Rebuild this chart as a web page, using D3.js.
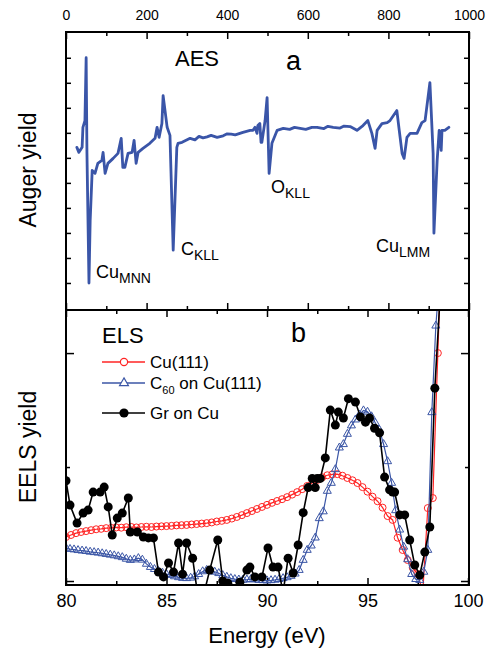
<!DOCTYPE html>
<html><head><meta charset="utf-8">
<script src="https://cdn.jsdelivr.net/npm/d3@7/dist/d3.min.js"></script>
<style>
html,body{margin:0;padding:0;background:#fff;}
text{font-family:"Liberation Sans",Arial,Helvetica,sans-serif;fill:#000;}
</style></head>
<body><svg id="c" width="486" height="653"></svg>
<script>
// ---------- DATA ----------
// Panel a: AES spectrum (kinetic energy in eV, Auger yield in arb. units)
const aesE = [27,32,40,42,47,50,52,57,60,65,72,79,89,92,97,104,117,129,137,141,146,154,164,169,174,179,191,208,221,226,231,238,241,251,258,266,275,278,288,308,320,330,340,350,360,375,390,400,410,420,439,457,464,469,474,476,481,484,486,494,499,504,511,524,539,555,567,581,595,610,623,640,650,663,680,690,705,722,737,749,759,767,772,784,797,804,821,826,834,839,846,854,871,883,891,903,911,913,921,926,931,933,940,950];
const aesY = [6.42,6.22,6.42,7.22,7.49,10.0,6.18,1.0,3.51,5.50,5.38,5.78,5.90,6.22,5.38,5.78,5.98,6.18,6.78,5.62,5.62,6.18,6.22,6.70,5.78,6.22,6.38,6.58,6.78,7.22,6.82,7.37,8.49,7.22,6.90,2.31,6.42,6.58,6.62,6.78,6.72,6.86,6.80,6.84,6.90,6.82,6.88,6.96,6.95,6.92,7.02,7.10,7.10,7.22,6.98,7.29,7.37,6.62,6.62,7.49,8.41,5.38,6.58,7.10,7.18,7.14,7.22,7.18,7.14,7.22,7.22,7.17,7.26,7.22,7.19,7.27,7.25,7.10,7.29,7.49,6.98,6.38,7.10,7.37,7.41,7.49,7.89,7.22,6.18,5.98,6.82,6.98,6.98,7.41,7.49,9.01,6.18,2.99,5.90,7.10,6.30,7.10,7.10,7.22];

// Panel b: ELS spectra (energy in eV, EELS yield in arb. units)
const cuE = [80,80.25,80.5,80.75,81,81.25,81.5,81.75,82,82.25,82.5,82.75,83,83.25,83.5,83.75,84,84.25,84.5,84.75,85,85.25,85.5,85.75,86,86.25,86.5,86.75,87,87.25,87.5,87.75,88,88.25,88.5,88.75,89,89.25,89.5,89.75,90,90.25,90.5,90.75,91,91.25,91.5,91.75,92,92.25,92.5,92.75,93,93.25,93.5,93.75,94,94.25,94.5,94.75,95,95.25,95.5,95.75,96,96.25,96.5,96.75,97,97.25,97.5,97.75,98,98.25,98.5,98.75];
const cuY = [0.193,0.202,0.210,0.215,0.219,0.223,0.227,0.229,0.232,0.233,0.235,0.234,0.236,0.237,0.235,0.237,0.238,0.237,0.239,0.240,0.241,0.242,0.244,0.245,0.246,0.248,0.250,0.252,0.254,0.257,0.261,0.264,0.268,0.274,0.281,0.289,0.298,0.307,0.316,0.325,0.334,0.343,0.351,0.359,0.368,0.379,0.390,0.403,0.417,0.430,0.443,0.455,0.464,0.468,0.469,0.462,0.452,0.442,0.430,0.412,0.392,0.370,0.350,0.322,0.285,0.268,0.190,0.136,0.092,0.058,0.030,-0.050,0.320,0.364,1.000,1.650];

const c60E = [80,80.2,80.4,80.6,80.8,81,81.2,81.4,81.6,81.8,82,82.2,82.4,82.6,82.8,83,83.2,83.4,83.6,83.8,84,84.2,84.4,84.6,84.8,85,85.2,85.4,85.6,85.8,86,86.2,86.4,86.6,86.8,87,87.2,87.4,87.6,87.8,88,88.2,88.4,88.6,88.8,89,89.2,89.4,89.6,89.8,90,90.2,90.4,90.6,90.8,91,91.2,91.4,91.6,91.8,92,92.2,92.4,92.6,92.8,93,93.2,93.4,93.6,93.8,94,94.2,94.4,94.6,94.8,95,95.2,95.4,95.6,95.8,96,96.2,96.4,96.6,96.8,97,97.2,97.4,97.6,97.8,98,98.2,98.4,98.6];
const c60Y = [0.145,0.140,0.138,0.135,0.133,0.131,0.128,0.126,0.124,0.121,0.118,0.115,0.112,0.108,0.104,0.097,0.092,0.094,0.100,0.093,0.075,0.061,0.052,0.043,0.036,0.030,0.026,0.020,0.016,0.013,0.012,0.014,0.020,0.030,0.042,0.048,0.045,0.040,0.034,0.025,0.018,0.012,0.008,0.006,0.005,0.006,0.008,0.006,0.004,0.003,0.002,0.003,0.005,0.008,0.012,0.016,0.022,0.032,0.048,0.092,0.136,0.155,0.190,0.275,0.305,0.395,0.430,0.490,0.585,0.600,0.645,0.682,0.708,0.730,0.748,0.742,0.722,0.692,0.662,0.600,0.525,0.430,0.310,0.225,0.150,0.095,0.030,0.008,0.004,0.040,0.136,0.740,1.120,1.350];

const grE = [80.0,80.2,80.55,80.85,81.1,81.35,81.7,81.9,82.1,82.3,82.55,82.8,83.1,83.2,83.55,83.85,84.1,84.35,84.6,84.85,85.1,85.35,85.6,85.8,86.0,86.3,86.55,86.85,87.15,87.55,87.8,88.05,88.35,88.65,89.0,89.15,89.4,89.75,90.05,90.3,90.55,90.8,91.05,91.3,91.55,91.8,92.05,92.25,92.4,92.5,92.65,92.9,93.15,93.4,93.55,93.8,94.05,94.4,94.65,94.9,95.1,95.35,95.6,95.85,96.1,96.25,96.35,96.6,96.85,97.1,97.35,97.6,97.85,98.1,98.35,98.6];
const grY = [0.440,0.333,0.254,0.298,0.311,0.390,0.390,0.412,0.325,0.202,0.276,0.298,0.364,0.215,0.215,0.193,0.189,0.189,0.039,0.018,0.079,0.039,0.167,0.030,0.167,0.100,-0.060,-0.060,0.048,0.180,0.000,-0.010,-0.040,-0.005,0.048,0.061,0.018,0.018,0.145,0.061,0.061,-0.050,0.100,0.035,0.158,0.300,0.410,0.450,0.410,0.450,0.450,0.540,0.750,0.684,0.741,0.715,0.800,0.785,0.720,0.697,0.715,0.670,0.650,0.456,0.400,0.390,0.390,0.290,0.290,0.180,0.070,0.026,0.127,0.237,0.846,1.230];

const topTicks = [0,200,400,600,800,1000];
const topMinor = [100,300,500,700,900];
const aTicksY = [1,2,3,4,5,6,7,8,9,10];
const botTicks = [80,85,90,95,100];
const botMinor = [82.5,87.5,92.5,97.5];
const bTicksY = [0,1];
const bMinorY = [0.5];

// ---------- LAYOUT ----------
const L = 66, R = 469, TA = 32, MID = 310, BB = 585;
const svg = d3.select("#c");

const xA = d3.scaleLinear().domain([0,1000]).range([L,R]);
const yA = d3.scaleLinear().domain([-0.08,11.03]).range([MID,TA]);
const xB = d3.scaleLinear().domain([80,100]).range([L,R-1]);
const yB = d3.scaleLinear().domain([-0.0175,1.189]).range([BB,MID]);

function styleAxis(g){
  g.select(".domain").remove();
  g.selectAll(".tick line").attr("stroke","#000").attr("stroke-width",1.5);
}

// ---------- PANEL A ----------
svg.append("defs").append("clipPath").attr("id","clipB")
  .append("rect").attr("x",L).attr("y",MID).attr("width",R-L).attr("height",BB-MID);

svg.append("g").attr("transform",`translate(0,${TA})`)
  .call(d3.axisTop(xA).tickValues(topTicks).tickSize(-7).tickPadding(12).tickFormat(d3.format("d")))
  .call(styleAxis)
  .call(g=>g.selectAll("text").attr("font-size",14).attr("font-family","Liberation Sans, Arial, sans-serif"));
svg.append("g").attr("transform",`translate(0,${TA})`)
  .call(d3.axisTop(xA).tickValues(topMinor).tickSize(-4).tickFormat(""))
  .call(styleAxis);
svg.append("g").attr("transform",`translate(0,${MID})`)
  .call(d3.axisBottom(xA).tickValues(topTicks).tickSize(7).tickFormat(""))
  .call(styleAxis).call(g=>g.selectAll(".tick line").attr("y2",-7));
svg.append("g").attr("transform",`translate(0,${MID})`)
  .call(d3.axisBottom(xA).tickValues(topMinor).tickSize(4).tickFormat(""))
  .call(styleAxis).call(g=>g.selectAll(".tick line").attr("y2",-4));
svg.append("g").attr("transform",`translate(${L},0)`)
  .call(d3.axisLeft(yA).tickValues(aTicksY).tickSize(-5).tickFormat(""))
  .call(styleAxis);
svg.append("g").attr("transform",`translate(${R},0)`)
  .call(d3.axisRight(yA).tickValues(aTicksY).tickSize(-5).tickFormat(""))
  .call(styleAxis);

svg.append("path")
  .datum(aesE.map((e,i)=>[e,aesY[i]]))
  .attr("fill","none").attr("stroke","#3a55a8").attr("stroke-width",2.8)
  .attr("stroke-linejoin","round").attr("stroke-linecap","round")
  .attr("d",d3.line().x(d=>xA(d[0])).y(d=>yA(d[1])));

function subLabel(x,y,main,sub,fs,fsSub,dySub){
  const t = svg.append("text").attr("x",x).attr("y",y).attr("font-size",fs);
  t.append("tspan").text(main);
  t.append("tspan").attr("font-size",fsSub).attr("dy",dySub).text(sub);
  return t;
}
svg.append("text").attr("x",175).attr("y",66).attr("font-size",22).text("AES");
svg.append("text").attr("x",286).attr("y",70).attr("font-size",27).text("a");
subLabel(96,278,"Cu","MNN",18,14,5);
subLabel(181,255,"C","KLL",18,14,5);
subLabel(271,193,"O","KLL",18,14,5);
subLabel(376,252,"Cu","LMM",18,14,5);

// ---------- PANEL B ----------
svg.append("g").attr("transform",`translate(0,${MID})`)
  .call(d3.axisTop(xB).tickValues(botTicks).tickSize(-7).tickFormat(""))
  .call(styleAxis);
svg.append("g").attr("transform",`translate(0,${MID})`)
  .call(d3.axisTop(xB).tickValues(botMinor).tickSize(-4).tickFormat(""))
  .call(styleAxis);
svg.append("g").attr("transform",`translate(0,${BB})`)
  .call(d3.axisBottom(xB).tickValues(botTicks).tickSize(-7).tickPadding(9).tickFormat(d3.format("d")))
  .call(styleAxis)
  .call(g=>g.selectAll("text").attr("font-size",18).attr("font-family","Liberation Sans, Arial, sans-serif"));
svg.append("g").attr("transform",`translate(0,${BB})`)
  .call(d3.axisBottom(xB).tickValues(botMinor).tickSize(-4).tickFormat(""))
  .call(styleAxis);
svg.append("g").attr("transform",`translate(${L},0)`)
  .call(d3.axisLeft(yB).tickValues(bTicksY).tickSize(-8).tickFormat("")).call(styleAxis);
svg.append("g").attr("transform",`translate(${L},0)`)
  .call(d3.axisLeft(yB).tickValues(bMinorY).tickSize(-4).tickFormat("")).call(styleAxis);
svg.append("g").attr("transform",`translate(${R},0)`)
  .call(d3.axisRight(yB).tickValues(bTicksY).tickSize(-8).tickFormat("")).call(styleAxis);
svg.append("g").attr("transform",`translate(${R},0)`)
  .call(d3.axisRight(yB).tickValues(bMinorY).tickSize(-4).tickFormat("")).call(styleAxis);

const gB = svg.append("g").attr("clip-path","url(#clipB)");
const lineB = d3.line().x(d=>xB(d[0])).y(d=>yB(d[1]));
const RED = "#ff2424", BLUE = "#3b56a6";

const cuData = cuE.map((e,i)=>[e,cuY[i]]);
const c60Data = c60E.map((e,i)=>[e,c60Y[i]]);
const grData = grE.map((e,i)=>[e,grY[i]]);

gB.append("path").datum(cuData).attr("fill","none").attr("stroke",RED).attr("stroke-width",1.2).attr("d",lineB);
gB.selectAll(".cu").data(cuData).join("circle").attr("class","cu")
  .attr("cx",d=>xB(d[0])).attr("cy",d=>yB(d[1])).attr("r",3.5)
  .attr("fill","none").attr("stroke",RED).attr("stroke-width",1);

const tri = d3.symbol().type(d3.symbolTriangle).size(28);
gB.append("path").datum(c60Data).attr("fill","none").attr("stroke",BLUE).attr("stroke-width",1.2).attr("d",lineB);
gB.selectAll(".c60").data(c60Data).join("path").attr("class","c60")
  .attr("transform",d=>`translate(${xB(d[0])},${yB(d[1])})`).attr("d",tri)
  .attr("fill","none").attr("stroke",BLUE).attr("stroke-width",1);

gB.append("path").datum(grData).attr("fill","none").attr("stroke","#000").attr("stroke-width",1.6).attr("d",lineB);
gB.selectAll(".gr").data(grData).join("circle").attr("class","gr")
  .attr("cx",d=>xB(d[0])).attr("cy",d=>yB(d[1])).attr("r",4.5).attr("fill","#000");

svg.append("rect").attr("x",L).attr("y",TA).attr("width",R-L).attr("height",MID-TA)
  .attr("fill","none").attr("stroke","#000").attr("stroke-width",2);
svg.append("rect").attr("x",L).attr("y",MID).attr("width",R-L).attr("height",BB-MID)
  .attr("fill","none").attr("stroke","#000").attr("stroke-width",2);

svg.append("text").attr("x",102).attr("y",343).attr("font-size",22).text("ELS");
svg.append("text").attr("x",291).attr("y",342).attr("font-size",27).text("b");

const legend = [
  {name:"Cu(111)", sub:null, color:RED, kind:"circle", y:362},
  {name:"C", sub:"60", rest:" on Cu(111)", color:BLUE, kind:"tri", y:383},
  {name:"Gr on Cu", sub:null, color:"#000", kind:"dot", y:413}
];
legend.forEach(it=>{
  const g = svg.append("g");
  g.append("line").attr("x1",102).attr("x2",145).attr("y1",it.y).attr("y2",it.y)
    .attr("stroke",it.color).attr("stroke-width",1.5);
  if(it.kind==="circle") g.append("circle").attr("cx",124).attr("cy",it.y).attr("r",3.6).attr("fill","#fff").attr("stroke",it.color).attr("stroke-width",1.2);
  if(it.kind==="tri") g.append("path").attr("transform",`translate(124,${it.y})`).attr("d",d3.symbol().type(d3.symbolTriangle).size(34)).attr("fill","#fff").attr("stroke",it.color).attr("stroke-width",1.2);
  if(it.kind==="dot") g.append("circle").attr("cx",124).attr("cy",it.y).attr("r",4.6).attr("fill","#000");
  const t = g.append("text").attr("x",150).attr("y",it.y+6).attr("font-size",17);
  t.append("tspan").text(it.name);
  if(it.sub){
    t.append("tspan").attr("font-size",11).attr("dy",5).text(it.sub);
    t.append("tspan").attr("dy",-5).text(it.rest);
  }
});

svg.append("text").attr("transform","translate(36,170) rotate(-90)").attr("text-anchor","middle").attr("font-size",23).text("Auger yield");
svg.append("text").attr("transform","translate(36,447) rotate(-90)").attr("text-anchor","middle").attr("font-size",23).text("EELS yield");
svg.append("text").attr("x",267).attr("y",643).attr("text-anchor","middle").attr("font-size",22).text("Energy (eV)");
</script>
</body></html>
